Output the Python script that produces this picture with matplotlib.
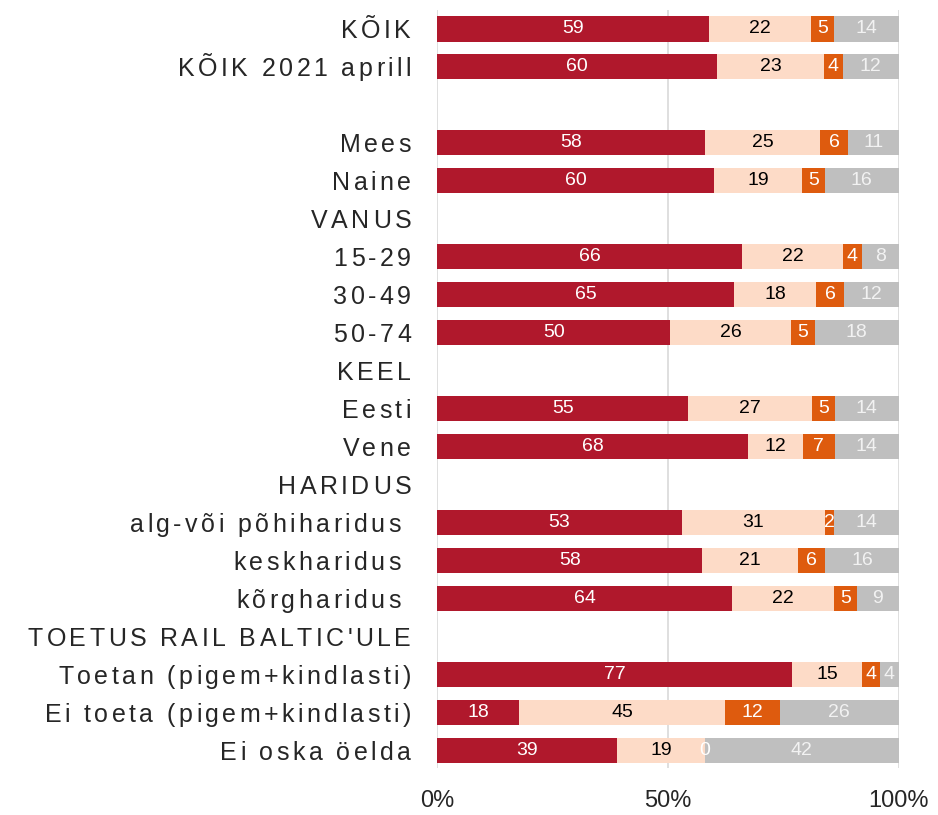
import matplotlib.pyplot as plt
import matplotlib.transforms as mtransforms
from matplotlib import font_manager
from matplotlib.ft2font import FT2Font
import numpy as np

plt.rcParams['font.family'] = ['Liberation Sans', 'DejaVu Sans']

labels = ["KÕIK", "KÕIK 2021 aprill", "", "Mees", "Naine", "VANUS",
          "15-29", "30-49", "50-74", "KEEL", "Eesti", "Vene", "HARIDUS",
          "alg-või põhiharidus ", "keskharidus ", "kõrgharidus ",
          "TOETUS RAIL BALTIC'ULE", "Toetan (pigem+kindlasti)",
          "Ei toeta (pigem+kindlasti)", "Ei oska öelda"]

# None = header / empty row
s1 = [59, 60, None, 58, 60, None, 66, 65, 50, None, 55, 68, None, 53, 58, 64, None, 77, 18, 39]
s2 = [22, 23, None, 25, 19, None, 22, 18, 26, None, 27, 12, None, 31, 21, 22, None, 15, 45, 19]
s3 = [5, 4, None, 6, 5, None, 4, 6, 5, None, 5, 7, None, 2, 6, 5, None, 4, 12, 0]
s4 = [14, 12, None, 11, 16, None, 8, 12, 18, None, 14, 14, None, 14, 16, 9, None, 4, 26, 42]

xticks = [0, 50, 100]
xticklabels = ["0%", "50%", "100%"]

series = [s1, s2, s3, s4]
colors = ["#B0182C", "#FDDBC7", "#DE5B0E", "#BFBFBF"]
text_colors = ["white", "black", "white", "#F2F2F2"]

DPI = 100
fig = plt.figure(figsize=(9.38, 8.15), dpi=DPI)
ax = fig.add_axes([0.466, 0.058, 0.492, 0.930])

y = np.arange(len(labels))
for i in range(len(labels)):
    if s1[i] is None:
        continue
    vals = np.array([s[i] for s in series], dtype=float)
    widths = vals / vals.sum() * 100
    left = 0
    for j in range(4):
        ax.barh(y[i], widths[j], left=left, height=0.67, color=colors[j],
                edgecolor='none', zorder=2)
        ax.text(left + widths[j] / 2, y[i], f"{int(vals[j])}", ha='center',
                va='center', color=text_colors[j], fontsize=14, zorder=3)
        left += widths[j]

ax.set_xlim(0, 100)
ax.set_ylim(19.45, -0.5)
ax.set_yticks([])
ax.set_xticks(xticks)
ax.set_xticklabels(xticklabels, fontsize=17, color="#262626")
ax.tick_params(axis='both', length=0)
ax.tick_params(axis='x', pad=16)
ax.grid(axis='x', color="#D9D9D9", linewidth=1.2, zorder=0)
for sp in ax.spines.values():
    sp.set_visible(False)

# category labels with letter spacing, drawn char by char
lab_size = 18
spacing = 3.4  # px between letters
fpath = font_manager.findfont(font_manager.FontProperties(family='Liberation Sans'))
ft = FT2Font(fpath)
ft.set_size(lab_size, DPI)

def advance(ch):
    g = ft.load_char(ord(ch))
    return g.linearHoriAdvance / 65536.0

em = lab_size * DPI / 72
right_px = 411
base = mtransforms.blended_transform_factory(mtransforms.IdentityTransform(), ax.transData)
trans = mtransforms.offset_copy(base, fig=fig, x=0, y=-0.358 * em, units='dots')
for yi, lab in zip(y, labels):
    if not lab:
        continue
    adv = [advance(c) for c in lab]
    total = sum(adv) + spacing * (len(lab) - 1)
    x = right_px - total
    for c, a in zip(lab, adv):
        if c != " ":
            fig.text(x, yi, c, transform=trans, fontsize=lab_size,
                     color="#262626", ha='left', va='baseline')
        x += a + spacing

fig.savefig("out.png", dpi=DPI)
